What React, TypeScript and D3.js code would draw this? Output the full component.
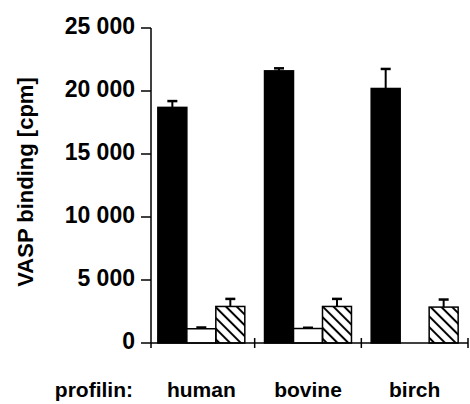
import * as d3 from "d3";

const groups = ["human", "bovine", "birch"];
const series = ["solid", "open", "hatched"];
const solidValues = [18700, 21600, 20200];
const solidErrors = [500, 200, 1550];
const openValues = [1130, 1150, 0];
const openErrors = [100, 60, 0];
const hatchedValues = [2900, 2900, 2850];
const hatchedErrors = [600, 600, 600];
const yTicks = [0, 5000, 10000, 15000, 20000, 25000];
const xPrefix = "profilin:";
const yTitle = "VASP binding [cpm]";

const W = 470;
const H = 404;
const FONT = "'Liberation Sans', Arial, Helvetica, sans-serif";

const locale = d3.formatLocale({ decimal: ".", thousands: " ", grouping: [3], currency: ["", ""] });
const fmt = locale.format(",");

export default function App() {
  const axisX = 151;
  const x = d3.scaleBand<string>().domain(groups).range([148, 468]);
  const inner = d3
    .scaleBand<string>()
    .domain(series)
    .range([0, x.bandwidth()])
    .paddingInner(0)
    .paddingOuter(0.34);
  const y = d3.scaleLinear().domain([0, 25000]).range([343, 28]);

  const valuesBy: Record<string, number[]> = { solid: solidValues, open: openValues, hatched: hatchedValues };
  const errorsBy: Record<string, number[]> = { solid: solidErrors, open: openErrors, hatched: hatchedErrors };

  const bars = groups.flatMap((g, gi) =>
    series.map((s) => ({
      g,
      s,
      v: valuesBy[s][gi],
      e: errorsBy[s][gi],
      x0: (x(g) ?? 0) + (inner(s) ?? 0),
      w: inner.bandwidth(),
    }))
  );

  const groupTicks = [x(groups[1]) ?? 0, x(groups[2]) ?? 0, x.range()[1]];
  const capW = 10;

  return (
    <div style={{ position: "absolute", left: 0, top: 0 }}>
      <svg width={W} height={H} style={{ display: "block", background: "#fff" }}>
        <defs>
          <pattern id="hatch" patternUnits="userSpaceOnUse" width="7.6" height="7.6" patternTransform="rotate(45)">
            <line x1="0" y1="3.8" x2="7.6" y2="3.8" stroke="#000" strokeWidth="2" />
          </pattern>
        </defs>

        {/* bars */}
        {bars.map((b) =>
          b.v > 0 ? (
            <rect
              key={b.g + b.s}
              x={b.x0}
              y={y(b.v)}
              width={b.w}
              height={y(0) - y(b.v)}
              fill={b.s === "solid" ? "#000" : b.s === "hatched" ? "url(#hatch)" : "#fff"}
              stroke="#000"
              strokeWidth={1.5}
            />
          ) : null
        )}

        {/* error bars */}
        {bars
          .filter((b) => b.v > 0 && b.e > 0)
          .map((b) => {
            const cx = b.x0 + b.w / 2;
            return (
              <g key={"e" + b.g + b.s} stroke="#000">
                <line x1={cx} x2={cx} y1={y(b.v)} y2={y(b.v + b.e)} strokeWidth={2} />
                <line x1={cx - capW / 2} x2={cx + capW / 2} y1={y(b.v + b.e)} y2={y(b.v + b.e)} strokeWidth={2.5} />
              </g>
            );
          })}

        {/* y axis */}
        <line x1={axisX} x2={axisX} y1={y(0) + 5} y2={y(25000)} stroke="#000" strokeWidth={1.5} />
        {yTicks.map((t) => (
          <g key={t}>
            <line x1={axisX - 10} x2={axisX} y1={y(t)} y2={y(t)} stroke="#000" strokeWidth={1.5} />
            <text
              x={135}
              y={y(t) + 6}
              textAnchor="end"
              fontFamily={FONT}
              fontWeight="bold"
              fontSize={23}
              fill="#000"
            >
              {fmt(t)}
            </text>
          </g>
        ))}

        {/* x axis */}
        <line x1={axisX} x2={x.range()[1]} y1={y(0)} y2={y(0)} stroke="#000" strokeWidth={1.5} />
        {groupTicks.map((t, i) => (
          <line key={i} x1={t} x2={t} y1={y(0) - 5} y2={y(0) + 5} stroke="#000" strokeWidth={1.5} />
        ))}

        {/* labels */}
        <text
          transform={`translate(33,182) rotate(-90)`}
          textAnchor="middle"
          fontFamily={FONT}
          fontWeight="bold"
          fontSize={22}
          fill="#000"
        >
          {yTitle}
        </text>
        <text x={133} y={397} textAnchor="end" fontFamily={FONT} fontWeight="bold" fontSize={21} fill="#000">
          {xPrefix}
        </text>
        {groups.map((g) => (
          <text
            key={g}
            x={(x(g) ?? 0) + x.bandwidth() / 2}
            y={397}
            textAnchor="middle"
            fontFamily={FONT}
            fontWeight="bold"
            fontSize={21}
            fill="#000"
          >
            {g}
          </text>
        ))}
      </svg>
    </div>
  );
}
